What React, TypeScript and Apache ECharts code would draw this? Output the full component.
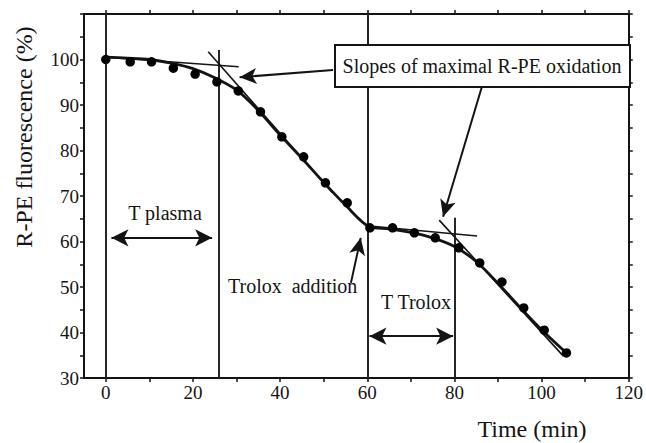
import React, { useEffect, useRef } from "react";
import * as echarts from "echarts";

// Measured points
const timeMin = [0, 5.6, 10.5, 15.5, 20.5, 25.5, 30.4, 35.5, 40.4, 45.4, 50.4, 55.4, 60.6, 65.8, 70.8, 75.6, 81, 85.8, 90.9, 95.9, 100.6, 105.7];
const fluorescence = [100, 99.5, 99.5, 98.1, 96.8, 95.1, 93.1, 88.5, 83.0, 78.6, 72.9, 68.5, 63.0, 63.0, 61.9, 60.8, 58.6, 55.3, 51.1, 45.4, 40.5, 35.5];

// Fitted curve
const fitTime = [0, 5, 10, 15, 20, 25, 30, 35, 40, 45, 50, 55, 60.6, 65, 70, 75, 80, 85, 90, 95, 100, 105.7];
const fitFluorescence = [100.5, 100.3, 100.0, 99.2, 98.0, 96.0, 93.3, 88.8, 83.4, 78.3, 73.0, 68.0, 63.2, 62.8, 62.0, 60.8, 58.9, 55.6, 50.8, 45.6, 40.6, 35.5];

// Axis ticks / labels
const xTicks = [0, 10, 20, 30, 40, 50, 60, 70, 80, 90, 100, 110, 120];
const xLabels = [0, 20, 40, 60, 80, 100, 120];

// Annotation geometry in data units (time, fluorescence)
const verticalLines = [
  [0, 30, 110],
  [26, 30, 102.1],
  [60, 30, 110],
  [80, 30, 65.2],
];
const tangentLines = [
  [[0, 100.5], [30.5, 98.4]],
  [[23.5, 101.7], [52, 70.7]],
  [[60.6, 63.4], [85.2, 61.2]],
  [[76.5, 64.7], [105, 34.8]],
];
const pointerArrows = [
  [[52.15, 97.7], [30.7, 96.1]],
  [[86.3, 94.0], [77.4, 65.45]],
  [[56.25, 50.9], [58.5, 60.8]],
];
const spanArrows = [
  [[1.3, 60.8], [24.4, 60.8]],
  [[60.5, 39.2], [79.7, 39.2]],
];

const FONT = "'Liberation Serif', 'Times New Roman', serif";
const INK = "#141414";

export default function App() {
  const ref = useRef<HTMLDivElement>(null);

  useEffect(() => {
    if (!ref.current) return;
    const chart = echarts.init(ref.current, undefined, { renderer: "svg" });

    const axisCommon = {
      type: "value" as const,
      axisLine: { show: true, onZero: false, lineStyle: { color: INK, width: 2 } },
      splitLine: { show: false },
    };

    const markData: any[] = [];
    verticalLines.forEach(([x, y1, y2]) => {
      markData.push([
        { coord: [x, y1], symbol: "none" },
        { coord: [x, y2], symbol: "none", lineStyle: { color: "#262626", width: 2, type: "solid" } },
      ]);
    });
    tangentLines.forEach(([a, b]) => {
      markData.push([
        { coord: a, symbol: "none" },
        { coord: b, symbol: "none", lineStyle: { color: INK, width: 1.6, type: "solid" } },
      ]);
    });
    pointerArrows.forEach(([a, b]) => {
      markData.push([
        { coord: a, symbol: "none" },
        { coord: b, symbol: "arrow", symbolSize: [12, 17], lineStyle: { color: INK, width: 2, type: "solid" } },
      ]);
    });
    spanArrows.forEach(([a, b]) => {
      markData.push([
        { coord: a, symbol: "arrow", symbolSize: [13, 17] },
        { coord: b, symbol: "arrow", symbolSize: [13, 17], lineStyle: { color: INK, width: 2, type: "solid" } },
      ]);
    });

    chart.setOption({
      animation: false,
      backgroundColor: "#ffffff",
      grid: { left: 84, right: 13, top: 14, bottom: 65, containLabel: false },
      xAxis: [
        {
          ...axisCommon,
          position: "bottom",
          min: -5,
          max: 120,
          axisTick: { show: true, inside: false, length: 4, customValues: xTicks, lineStyle: { color: INK, width: 1.5 } },
          axisLabel: { show: true, customValues: xLabels, fontSize: 19, fontFamily: FONT, color: INK, margin: 5 },
        },
        {
          ...axisCommon,
          position: "top",
          min: -5,
          max: 120,
          axisTick: { show: true, inside: false, length: 4, customValues: xTicks, lineStyle: { color: INK, width: 1.5 } },
          axisLabel: { show: false },
        },
      ],
      yAxis: [
        {
          ...axisCommon,
          position: "left",
          min: 30,
          max: 110,
          interval: 5,
          axisTick: { show: true, inside: false, length: 4, lineStyle: { color: INK, width: 1.5 } },
          axisLabel: {
            show: true,
            fontSize: 19,
            fontFamily: FONT,
            color: INK,
            margin: 5,
            formatter: (v: number) => (v % 10 === 0 && v <= 100 ? String(v) : ""),
          },
        },
        {
          ...axisCommon,
          position: "right",
          min: 30,
          max: 110,
          interval: 5,
          axisTick: { show: true, inside: false, length: 4, lineStyle: { color: INK, width: 1.5 } },
          axisLabel: { show: false },
        },
      ],
      series: [
        {
          type: "line",
          name: "fit",
          data: fitTime.map((t, i) => [t, fitFluorescence[i]]),
          smooth: 0.3,
          showSymbol: false,
          symbol: "none",
          lineStyle: { color: INK, width: 2.8, opacity: 1 },
          silent: true,
          z: 3,
          markLine: {
            silent: true,
            symbol: ["none", "none"],
            label: { show: false },
            emphasis: { disabled: true },
            lineStyle: { color: INK, width: 1.5, type: "solid", opacity: 1 },
            data: markData,
            z: 2,
          },
        },
        {
          type: "scatter",
          name: "R-PE",
          data: timeMin.map((t, i) => [t, fluorescence[i]]),
          symbol: "circle",
          symbolSize: 9.5,
          itemStyle: { color: "#000000", opacity: 1 },
          silent: true,
          z: 4,
        },
      ],
      graphic: [
        {
          type: "text",
          x: 24,
          y: 137,
          rotation: Math.PI / 2,
          style: {
            text: "R-PE fluorescence (%)",
            fontSize: 24,
            fontFamily: FONT,
            fill: INK,
            align: "center",
            verticalAlign: "middle",
          },
        },
        {
          type: "text",
          x: 532,
          y: 429,
          style: {
            text: "Time (min)",
            fontSize: 24,
            fontFamily: FONT,
            fill: INK,
            align: "center",
            verticalAlign: "middle",
          },
        },
        {
          type: "rect",
          shape: { x: 335, y: 45, width: 295, height: 42 },
          style: { fill: "#ffffff", stroke: INK, lineWidth: 2 },
          z: 10,
        },
        {
          type: "text",
          x: 482,
          y: 66,
          z: 11,
          style: {
            text: "Slopes of maximal R-PE oxidation",
            fontSize: 20,
            fontFamily: FONT,
            fill: INK,
            align: "center",
            verticalAlign: "middle",
          },
        },
        {
          type: "text",
          x: 165,
          y: 213,
          style: { text: "T plasma", fontSize: 20, fontFamily: FONT, fill: INK, align: "center", verticalAlign: "middle" },
        },
        {
          type: "text",
          x: 228,
          y: 286,
          style: { text: "Trolox  addition", fontSize: 20, fontFamily: FONT, fill: INK, align: "left", verticalAlign: "middle" },
        },
        {
          type: "text",
          x: 416,
          y: 302,
          style: { text: "T Trolox", fontSize: 20, fontFamily: FONT, fill: INK, align: "center", verticalAlign: "middle" },
        },
      ],
    });

    return () => chart.dispose();
  }, []);

  return <div ref={ref} style={{ width: 646, height: 443, position: "absolute", left: 0, top: 0 }} />;
}
